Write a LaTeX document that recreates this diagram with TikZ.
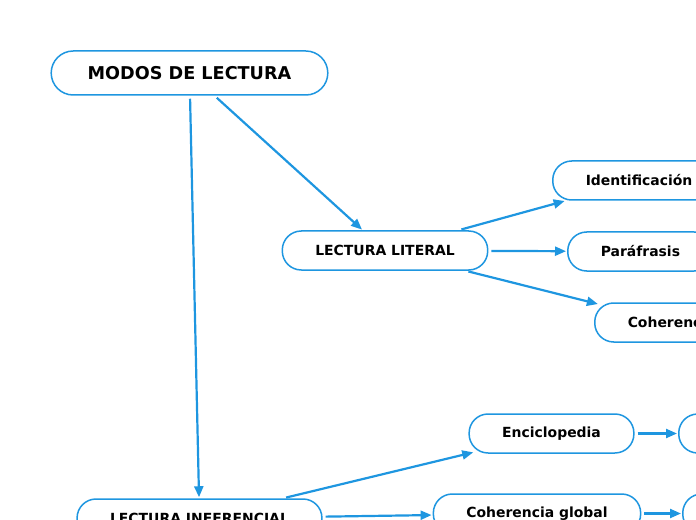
\documentclass[tikz,border=0pt]{standalone}
\usepackage{fontspec}
\setmainfont{DejaVu Sans}
\usepackage{xcolor}
\usetikzlibrary{positioning,arrows.meta}
\definecolor{mapblue}{HTML}{1E96E0}

\begin{document}
\begin{tikzpicture}[
  x=1bp, y=-1bp,
  topic/.style={draw=mapblue, line width=1.5bp, rounded corners=19bp,
                minimum height=39bp, inner xsep=33bp, inner ysep=0pt,
                font=\bfseries\fontsize{14}{16}\selectfont, fill=white},
  link/.style={draw=mapblue, line width=2.2bp, shorten <=3bp, shorten >=1bp,
               -{Triangle[length=11bp,width=9bp]}},
]
  \useasboundingbox (0,0) rectangle (696,520);
  \clip (0,0) rectangle (696,520);

  % Main topic
  \node[topic, minimum height=44bp, rounded corners=22bp, inner xsep=36.5bp,
        font=\bfseries\fontsize{17.7}{20}\selectfont] (modos) at (189.5,73)
    {MODOS DE LECTURA};

  % Literal reading
  \node[topic] (literal) at (385,250.5) {LECTURA LITERAL};
  \node[topic, anchor=west] (ident) at (552,180.5) {Identificación};
  \node[topic, anchor=west] (parafrasis) at (567,251.5) {Paráfrasis};
  \node[topic, anchor=west] (cohlocal) at (594,322.5) {Coherencia};

  % Inferential reading
  \node[topic] (inferencial) at (199.5,518.5) {LECTURA INFERENCIAL};
  \node[topic] (enciclo) at (551.5,433.5) {Enciclopedia};
  \node[topic] (cohglobal) at (537,513.5) {Coherencia global};
  \node[topic, anchor=west, minimum width=120bp] (encstub) at (678,433.5) {};
  \node[topic, anchor=west, minimum width=120bp] (cohstub) at (682,513.5) {};

  % Connectors
  \draw[link] (modos) -- (literal);
  \draw[link] (modos) -- (inferencial);
  \draw[link] (literal) -- (ident);
  \draw[link] (literal) -- (parafrasis);
  \draw[link, shorten >=-4bp] (literal) -- (cohlocal);
  \draw[link, shorten >=-5bp] (inferencial) -- (enciclo);
  \draw[link] (inferencial) -- (cohglobal);
  \draw[link] (enciclo) -- (encstub);
  \draw[link] (cohglobal) -- (cohstub);
\end{tikzpicture}
\end{document}
